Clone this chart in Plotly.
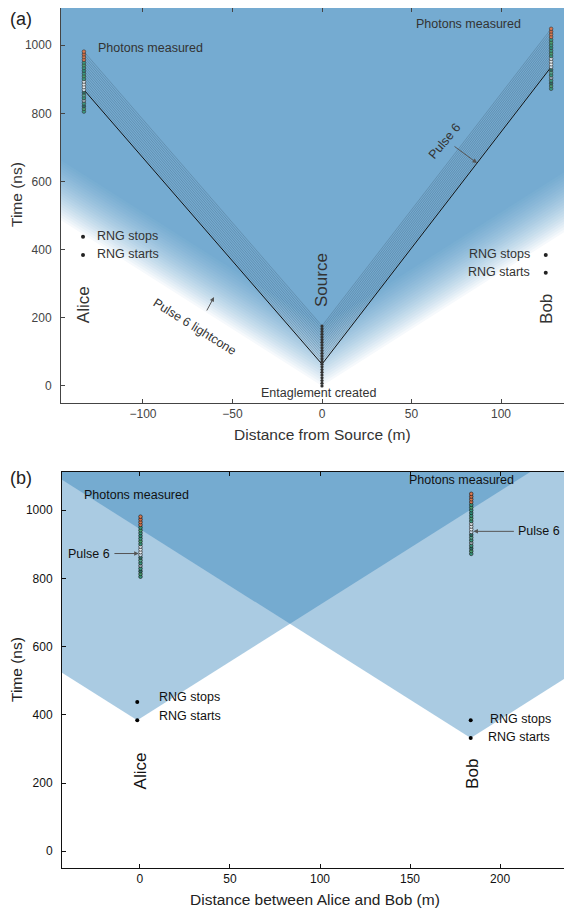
import plotly.graph_objects as go

# ---------------- data ----------------
C_LIGHT = 0.2998  # m/ns

pulse_emit_t = [0, 8, 16, 24, 32, 40, 48, 56, 64, 72, 80, 88, 96, 104, 112,
                120, 128, 136, 144, 152, 160, 168, 176]
alice_meas_t = [805, 813, 821, 829, 837, 845, 853, 861, 869, 877, 885, 893, 901,
                909, 917, 925, 933, 941, 949, 957, 965, 973, 981]
bob_meas_t = [872, 880, 888, 896, 904, 912, 920, 928, 936, 944, 952, 960, 968,
              976, 984, 992, 1000, 1008, 1016, 1024, 1032, 1040, 1048]
highlight_pulse = 8  # "Pulse 6"

meas_colors = ["#3a9a80", "#4aa070", "#2f6f66", "#3a9a80", "#9aa8b0", "#3a9a80",
               "#5aa890", "#2f6f66", "#cfe1ee", "#e8eef2", "#dfe6ea", "#d6dde2",
               "#3a9a80", "#4aa070", "#3a9a80", "#2f8f7a", "#3a9a80", "#4aa070",
               "#3a9a80", "#d9774f", "#d97a4f", "#cf6d47", "#d9774f"]

# panel (a): positions relative to the source (m)
alice_x_a = -133.0
bob_x_a = 128.0
alice_rng_x_a = -133.5
bob_rng_x_a = 125.0

# panel (b): positions relative to Alice (m)
alice_x_b = 0.3
bob_x_b = 184.0
alice_rng_x_b = -1.5
bob_rng_x_b = 183.7

alice_rng_t = [384, 438]  # starts, stops
bob_rng_t = [332, 384]

x_ticks_a = [-100, -50, 0, 50, 100]
x_ticks_b = [0, 50, 100, 150, 200]
y_ticks = [0, 200, 400, 600, 800, 1000]

# ---------------- figure ----------------
BLUE = (31, 119, 180)
FONT = "Liberation Sans, Arial, sans-serif"
fig = go.Figure()

FAR = 600.0
TOP = 3000.0
CONE_ALPHA = 0.0407


def layered(k):
    f = 1 - (1 - CONE_ALPHA) ** k
    r, g, b = (round(255 - (255 - c) * f) for c in BLUE)
    return f"rgb({r},{g},{b})"


# (a) light cones of every pulse (painted as stacked translucent layers)
for k, t0 in enumerate(pulse_emit_t):
    fig.add_trace(go.Scatter(
        x=[-FAR, 0, FAR, FAR, -FAR, -FAR],
        y=[t0 + FAR / C_LIGHT, t0, t0 + FAR / C_LIGHT, TOP, TOP, t0 + FAR / C_LIGHT],
        mode="lines", fill="toself", fillcolor=layered(k + 1),
        line=dict(width=0), hoverinfo="skip", showlegend=False,
        xaxis="x", yaxis="y"))

# (a) photon paths (from pulse 6 onwards)
for i, t0 in enumerate(pulse_emit_t):
    if i < highlight_pulse:
        continue
    hl = i == highlight_pulse
    fig.add_trace(go.Scatter(
        x=[alice_x_a, 0, bob_x_a], y=[alice_meas_t[i], t0, bob_meas_t[i]],
        mode="lines",
        line=dict(color="#111111" if hl else "rgba(40,55,70,0.42)",
                  width=1.0 if hl else 0.55),
        hoverinfo="skip", showlegend=False, xaxis="x", yaxis="y"))

# (a) source emission points
fig.add_trace(go.Scatter(
    x=[0] * len(pulse_emit_t), y=pulse_emit_t, mode="markers",
    marker=dict(size=3.2, color="#333333"), showlegend=False,
    xaxis="x", yaxis="y"))

# (a) measurements
for xa, tm in [(alice_x_a, alice_meas_t), (bob_x_a, bob_meas_t)]:
    fig.add_trace(go.Scatter(
        x=[xa] * len(tm), y=tm, mode="markers",
        marker=dict(size=3.6, color=meas_colors, line=dict(color="#333333", width=0.6)),
        showlegend=False, xaxis="x", yaxis="y"))

# (a) RNG events
fig.add_trace(go.Scatter(
    x=[alice_rng_x_a] * 2 + [bob_rng_x_a] * 2, y=alice_rng_t + bob_rng_t,
    mode="markers", marker=dict(size=4, color="#222222"), showlegend=False,
    xaxis="x", yaxis="y"))

# (b) light cones from the RNG start events
for xv, tv in [(alice_rng_x_b, alice_rng_t[0]), (bob_rng_x_b, bob_rng_t[0])]:
    fig.add_trace(go.Scatter(
        x=[xv - FAR, xv, xv + FAR, xv + FAR, xv - FAR, xv - FAR],
        y=[tv + FAR / C_LIGHT, tv, tv + FAR / C_LIGHT, TOP, TOP, tv + FAR / C_LIGHT],
        mode="lines", fill="toself", fillcolor="rgba(31,119,180,0.38)",
        line=dict(width=0), hoverinfo="skip", showlegend=False,
        xaxis="x2", yaxis="y2"))

for xb, tm in [(alice_x_b, alice_meas_t), (bob_x_b, bob_meas_t)]:
    fig.add_trace(go.Scatter(
        x=[xb] * len(tm), y=tm, mode="markers",
        marker=dict(size=3.6, color=meas_colors, line=dict(color="#111111", width=0.6)),
        showlegend=False, xaxis="x2", yaxis="y2"))

fig.add_trace(go.Scatter(
    x=[alice_rng_x_b] * 2 + [bob_rng_x_b] * 2, y=alice_rng_t + bob_rng_t,
    mode="markers", marker=dict(size=4, color="#000000"), showlegend=False,
    xaxis="x2", yaxis="y2"))

# ---------------- axes ----------------
def axis_style(col):
    return dict(showline=True, linecolor=col, linewidth=1, mirror="allticks",
                ticks="inside", ticklen=4, tickcolor=col, tickwidth=1,
                showgrid=False, zeroline=False, automargin=False,
                tickfont=dict(family=FONT, size=12, color=col))

OFF = 8  # page body margin of the browser
W, H = 572 - OFF, 913 - OFF
ML, MR, MT, MB = 61 - OFF, 1, 0, 45
PW, PH = W - ML - MR, H - MT - MB


def px(xp):
    return (xp - OFF - ML) / PW


def py(yp):
    return (H - MB - (yp - OFF)) / PH


fig.update_layout(
    width=W, height=H, margin=dict(l=ML, r=MR, t=MT, b=MB, pad=0),
    paper_bgcolor="white", plot_bgcolor="white", showlegend=False,
    font=dict(family=FONT),
    xaxis=dict(domain=[0, 1], anchor="y", range=[-145.8, 139.1],
               tickvals=x_ticks_a, ticktext=["−100", "−50", "0", "50", "100"],
               **axis_style("#444444")),
    yaxis=dict(domain=[py(403), 1], anchor="x", range=[-50, 1109],
               tickvals=y_ticks, ticklabelstandoff=6, **axis_style("#444444")),
    xaxis2=dict(domain=[px(62), 1], anchor="y2", range=[-43.3, 239.4],
                tickvals=x_ticks_b, **axis_style("#111111")),
    yaxis2=dict(domain=[0, py(472)], anchor="x2", range=[-49, 1112],
                tickvals=y_ticks, ticklabelstandoff=6, **axis_style("#111111")),
)

ann = []


def txt(text, x, y, ref="", size=12.5, color="#333333", angle=0,
        xanchor="center", yanchor="middle"):
    ann.append(dict(text=text, x=x, y=y, xref="x" + ref, yref="y" + ref,
                    showarrow=False, textangle=angle, xanchor=xanchor,
                    yanchor=yanchor, font=dict(family=FONT, size=size, color=color)))


def arrow(x0, y0, x1, y1, ref="", color="#555555"):
    ann.append(dict(text="", x=x1, y=y1, ax=x0, ay=y0, xref="x" + ref,
                    yref="y" + ref, axref="x" + ref, ayref="y" + ref,
                    showarrow=True, arrowhead=2, arrowsize=0.9, arrowwidth=1,
                    arrowcolor=color, standoff=0, startstandoff=0))


def ptxt(text, xp, yp, size, color="#222222", angle=0, xanchor="center",
         yanchor="middle"):
    ann.append(dict(text=text, x=px(xp), y=py(yp), xref="paper", yref="paper",
                    showarrow=False, textangle=angle, xanchor=xanchor,
                    yanchor=yanchor, borderpad=0,
                    font=dict(family=FONT, size=size, color=color)))


# panel (a) labels
A = "#333333"
txt("Photons measured", -96, 991, color=A)
txt("Photons measured", 81.8, 1062, color=A)
txt("Pulse 6", 68.7, 718, color=A, angle=-50)
arrow(73.2, 706, 86.6, 654)
txt("Pulse 6 lightcone", -71, 173, color=A, angle=32)
arrow(-64.8, 217, -60.3, 261)
txt("Entaglement created", -1.7, -20.5, color=A)
txt("Source", 0, 311, size=17, color=A, angle=-90)
txt("Alice", -133.5, 237, size=17, color=A, angle=-90)
txt("Bob", 125.7, 226, size=17, color=A, angle=-90)
txt("RNG stops", -126.8, 440, color=A, xanchor="left")
txt("RNG starts", -126.8, 387, color=A, xanchor="left")
txt("RNG stops", 117.3, 386, color=A, xanchor="right")
txt("RNG starts", 117.3, 334, color=A, xanchor="right")

# panel (b) labels
B = "#111111"
txt("Photons measured", -1.9, 1044, ref="2", color=B)
txt("Photons measured", 178.6, 1088, ref="2", color=B)
txt("Pulse 6", -15.6, 873, ref="2", color=B, xanchor="right")
arrow(-15.0, 873, alice_x_b - 1.0, 873, ref="2")
txt("Pulse 6", 208.9, 938, ref="2", color=B, xanchor="left")
arrow(208.5, 938, bob_x_b + 1.2, 938, ref="2")
txt("Alice", 0, 237, ref="2", size=17, color=B, angle=-90)
txt("Bob", 185, 227, ref="2", size=17, color=B, angle=-90)
txt("RNG stops", 9.4, 451, ref="2", color=B, xanchor="left")
txt("RNG starts", 9.4, 396, ref="2", color=B, xanchor="left")
txt("RNG stops", 193.3, 387, ref="2", color=B, xanchor="left")
txt("RNG starts", 192.2, 334, ref="2", color=B, xanchor="left")

# panel letters and axis titles
ptxt("(a)", 9, 8, 18, "#222222", xanchor="left", yanchor="top")
ptxt("(b)", 9, 478, 18, "#222222", xanchor="left")
ptxt("Time (ns)", 16, 195, 15.5, "#333333", angle=-90)
ptxt("Time (ns)", 16, 670, 15.5, "#222222", angle=-90)
ptxt("Distance from Source (m)", 322, 434, 15.5, "#333333")
ptxt("Distance between Alice and Bob (m)", 315, 900, 15.5, "#222222")

fig.update_layout(annotations=ann)
fig.write_html("out.html")
